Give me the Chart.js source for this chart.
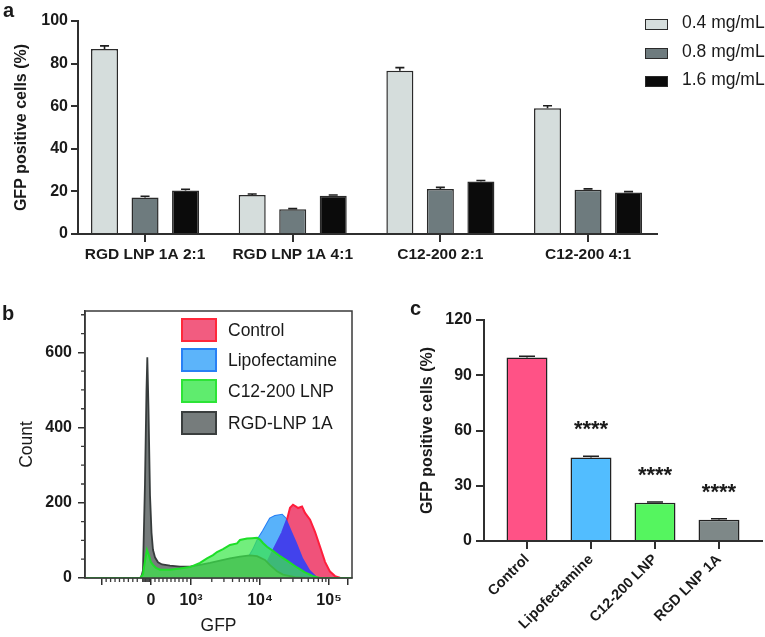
<!DOCTYPE html>
<html><head><meta charset="utf-8">
<script src="https://cdn.jsdelivr.net/npm/chart.js@4.4.1/dist/chart.umd.min.js"></script>
<style>
body{margin:0;background:#fff;width:765px;height:637px;overflow:hidden;position:relative;font-family:"Liberation Sans",Arial,Helvetica,sans-serif;color:#1a1a1a}
canvas{position:absolute}
.lbl{position:absolute;font-weight:bold;font-size:20px;line-height:1}
.leg{position:absolute;display:flex;align-items:center;white-space:nowrap}
.leg i{display:block;box-sizing:border-box;flex:none}
</style></head><body>
<canvas id="ca" width="765" height="282" style="left:0;top:0"></canvas>
<canvas id="cb" width="380" height="352" style="left:0;top:285px"></canvas>
<canvas id="cc" width="385" height="352" style="left:380px;top:285px"></canvas>
<div class="lbl" style="left:3px;top:0px">a</div>
<div class="lbl" style="left:2px;top:303px">b</div>
<div class="lbl" style="left:410px;top:298px">c</div>
<div id="legA"></div>
<div id="legB"></div>
<script>
// ---------- Panel a data ----------
const groupsA = ['RGD LNP 1A 2:1', 'RGD LNP 1A 4:1', 'C12-200 2:1', 'C12-200 4:1'];
const concA = ['0.4 mg/mL', '0.8 mg/mL', '1.6 mg/mL'];
const a04 = [86.9, 18.3, 76.7, 59.0];
const a08 = [17.1, 11.6, 21.1, 20.8];
const a16 = [20.4, 17.9, 24.6, 19.5];
const a04Err = [1.4, 0.5, 1.4, 1.2];
const a08Err = [0.6, 0.3, 0.8, 0.4];
const a16Err = [0.6, 0.4, 0.5, 0.4];
const aTicks = [0, 20, 40, 60, 80, 100];

// ---------- Panel b data (x in display decades of GFP) ----------
const histNames = ['Control', 'Lipofectamine', 'C12-200 LNP', 'RGD-LNP 1A'];
const ctrlX = [3.855, 3.971, 4.043, 4.101, 4.174, 4.246, 4.319, 4.391, 4.435, 4.478, 4.522, 4.551, 4.609, 4.652, 4.725, 4.797, 4.870, 4.942, 5.014, 5.087, 5.159, 5.232];
const ctrlY = [0, 8, 21, 40, 67, 93, 120, 155, 187, 195, 190, 186, 190, 173, 155, 123, 83, 43, 17, 5, 1, 0];
const lipoX = [2.261, 2.333, 2.362, 2.406, 2.551, 2.841, 3.130, 3.319, 3.464, 3.667, 3.812, 3.899, 3.971, 4.043, 4.145, 4.217, 4.319, 4.391, 4.464, 4.536, 4.623, 4.725, 4.826, 4.899];
const lipoY = [0, 3, 8, 4, 3, 3, 5, 12, 17, 29, 48, 75, 104, 125, 158, 165, 168, 155, 123, 93, 53, 21, 3, 0];
const c12X = [1.47, 2.261, 2.304, 2.333, 2.362, 2.391, 2.420, 2.449, 2.493, 2.551, 2.696, 2.841, 2.986, 3.130, 3.232, 3.319, 3.377, 3.464, 3.565, 3.667, 3.710, 3.812, 3.884, 3.957, 4.000, 4.043, 4.101, 4.188, 4.290, 4.391, 4.536, 4.652, 4.768, 4.870, 5.33];
const c12Y = [0, 0, 10, 45, 75, 60, 42, 35, 27, 22, 22, 25, 29, 40, 52, 61, 69, 77, 88, 92, 101, 105, 106, 107, 102, 93, 83, 72, 58, 46, 28, 15, 5, 0, 0];
const rgdX = [2.275, 2.304, 2.333, 2.355, 2.367, 2.384, 2.406, 2.428, 2.449, 2.478, 2.522, 2.580, 2.696, 2.841, 2.986, 3.130, 3.275, 3.420, 3.565, 3.710, 3.855, 3.957, 4.072, 4.145, 4.246, 4.333, 4.507, 4.652];
const rgdY = [0, 20, 250, 500, 587, 450, 220, 120, 75, 55, 42, 36, 33, 30, 30, 35, 40, 46, 52, 57, 60, 58, 48, 34, 18, 9, 2, 0];
const gfpMin = 1.464, gfpMax = 5.333;
const gfpTickPos = [2.42, 3, 4, 5];
const gfpTickLabels = ['0', '10³', '10⁴', '10⁵'];
const gfpMajor = [1.706, 2.42, 3, 4, 5, 5.275];
const countTicks = [0, 200, 400, 600];
const countMinor = [50, 100, 150, 250, 300, 350, 450, 500, 550, 650, 700];

// ---------- Panel c data ----------
const groupsC = ['Control', 'Lipofectamine', 'C12-200 LNP', 'RGD LNP 1A'];
const valsC = [99.7, 45.3, 20.8, 11.6];
const errC = [0.6, 0.7, 0.4, 0.5];
const sigC = ['', '****', '****', '****'];
const cTicks = [0, 30, 60, 90, 120];

// ---------- styles ----------
const FONT = '"Liberation Sans", Arial, Helvetica, sans-serif';
const AX = '#2f2f2f';
const colA = ['#d5dddc', '#6e7b7e', '#0b0b0b'];
const colC = ['#ff5286', '#52bdff', '#55f55f', '#7e8888'];
const histFill = ['rgb(240,82,122)', 'rgb(88,178,250)', 'rgba(60,232,75,0.72)', 'rgb(118,124,124)'];
const histLine = ['rgb(255,30,60)', 'rgb(35,125,245)', 'rgb(30,222,40)', 'rgb(55,60,60)'];
const legBFill = ['rgb(242,92,128)', 'rgb(92,180,250)', 'rgb(95,236,110)', 'rgb(118,124,124)'];
const legBLine = ['rgb(255,40,60)', 'rgb(40,128,245)', 'rgb(45,228,55)', 'rgb(58,62,62)'];

Chart.defaults.font.family = FONT;
Chart.defaults.color = '#1a1a1a';
Chart.defaults.animation = false;

const pairs = (xs, ys) => xs.map((x, i) => ({x: x, y: ys[i]}));

// error bars drawn through the y scale
const errPlugin = {
  id: 'errbars',
  afterDatasetsDraw(chart, args, opts) {
    const ctx = chart.ctx, ys = chart.scales.y;
    chart.data.datasets.forEach((ds, di) => {
      if (!ds.errors) return;
      const meta = chart.getDatasetMeta(di);
      meta.data.forEach((el, i) => {
        const v = ds.data[i].y;
        const top = ys.getPixelForValue(v + ds.errors[i]);
        ctx.save();
        ctx.strokeStyle = '#1e1e1e'; ctx.lineWidth = 1.6;
        ctx.beginPath();
        ctx.moveTo(el.x, el.y); ctx.lineTo(el.x, top);
        ctx.moveTo(el.x - opts.cap, top); ctx.lineTo(el.x + opts.cap, top);
        ctx.stroke(); ctx.restore();
      });
    });
  }
};

const starPlugin = {
  id: 'stars',
  afterDatasetsDraw(chart) {
    const ctx = chart.ctx, ys = chart.scales.y;
    const meta = chart.getDatasetMeta(0);
    ctx.save();
    ctx.font = 'bold 22px ' + FONT; ctx.textAlign = 'center'; ctx.textBaseline = 'alphabetic'; ctx.fillStyle = '#1a1a1a';
    meta.data.forEach((el, i) => {
      if (!sigC[i]) return;
      const top = ys.getPixelForValue(valsC[i] + errC[i]);
      ctx.fillText(sigC[i], el.x, top - 20);
    });
    ctx.restore();
  }
};

// per-dataset compositing for the overlaid histograms
const blendPlugin = {
  id: 'blend',
  beforeDatasetsDraw(chart) {
    const metas = chart.getSortedVisibleDatasetMetas();
    const first = metas[metas.length - 1];
    chart.ctx.globalCompositeOperation = chart.data.datasets[first.index].blend || 'source-over';
  },
  afterDatasetDraw(chart, args) {
    const metas = chart.getSortedVisibleDatasetMetas();
    const pos = metas.indexOf(args.meta);
    const next = metas[pos - 1];
    chart.ctx.globalCompositeOperation = next ? (chart.data.datasets[next.index].blend || 'source-over') : 'source-over';
  },
  afterDatasetsDraw(chart) { chart.ctx.globalCompositeOperation = 'source-over'; }
};

const gfpMinor = [];
for (let k = 1; k <= 8; k++) gfpMinor.push(1.706 + k * 0.0644);
[2.30, 2.32, 2.34, 2.36, 2.38, 2.40].forEach(v => gfpMinor.push(v));
for (let k = 1; k <= 9; k++) gfpMinor.push(2.42 + k * 0.058);
[3, 4].forEach(d => { for (let m = 2; m <= 9; m++) gfpMinor.push(d + Math.log10(m)); });

const framePlugin = {
  id: 'frame',
  afterDraw(chart) {
    const {ctx, chartArea: a} = chart;
    const x = chart.scales.x, y = chart.scales.y;
    ctx.save();
    ctx.strokeStyle = '#3a3a3a'; ctx.lineWidth = 1.5;
    ctx.strokeRect(a.left, a.top, a.right - a.left, a.bottom - a.top);
    ctx.lineWidth = 1.3; ctx.beginPath();
    gfpMinor.forEach(v => { const px = x.getPixelForValue(v); ctx.moveTo(px, a.bottom); ctx.lineTo(px, a.bottom + 4); });
    countMinor.forEach(v => { const py = y.getPixelForValue(v); ctx.moveTo(a.left, py); ctx.lineTo(a.left - 4, py); });
    ctx.stroke(); ctx.restore();
  }
};

// ---------- Panel a ----------
const aVals = [a04, a08, a16], aErrs = [a04Err, a08Err, a16Err];
new Chart(document.getElementById('ca'), {
  type: 'bar',
  data: {datasets: concA.map((c, k) => ({
    label: c, data: aVals[k].map((v, i) => ({x: i, y: v})), errors: aErrs[k],
    backgroundColor: colA[k], borderColor: '#2a2a2a', borderWidth: 1.5, borderSkipped: 'bottom',
    categoryPercentage: 0.823, barPercentage: 0.667
  }))},
  options: {
    responsive: false, devicePixelRatio: 1, animation: false,
    layout: {padding: {left: 0, top: 21, right: 108, bottom: 0}},
    plugins: {legend: {display: false}, tooltip: {enabled: false}, errbars: {cap: 4.5}},
    scales: {
      x: {type: 'linear', min: -0.454, max: 3.467, offset: false,
        afterBuildTicks: s => { s.ticks = groupsA.map((g, i) => ({value: i})); },
        afterFit: s => { s.height = 48; },
        ticks: {callback: v => groupsA[v], autoSkip: false, maxRotation: 0, padding: 3, font: {size: 15.5, weight: 'bold'}},
        grid: {offset: false, drawOnChartArea: false, tickLength: 8, color: AX, lineWidth: 2},
        border: {color: AX, width: 2}},
      y: {min: 0, max: 100,
        afterBuildTicks: s => { s.ticks = aTicks.map(v => ({value: v})); },
        afterFit: s => { s.width = 78; },
        ticks: {padding: 3, font: {size: 16, weight: 'bold'}},
        grid: {drawOnChartArea: false, tickLength: 7, color: AX, lineWidth: 2},
        border: {color: AX, width: 2},
        title: {display: true, text: 'GFP positive cells (%)', font: {size: 16, weight: 'bold'}, padding: {top: 12, bottom: 0}}}
    }
  },
  plugins: [errPlugin]
});

// ---------- Panel b ----------
const hx = [ctrlX, lipoX, c12X, rgdX], hy = [ctrlY, lipoY, c12Y, rgdY];
new Chart(document.getElementById('cb'), {
  type: 'line',
  data: {datasets: [
    {label: histNames[0], data: pairs(hx[0], hy[0]), order: 6, fill: 'origin', backgroundColor: histFill[0], borderColor: histLine[0], borderWidth: 2},
    {label: histNames[1] + ' (overlap with Control)', data: pairs(hx[1], hy[1]), order: 5, blend: 'source-atop', fill: 'origin', backgroundColor: 'rgb(66,66,236)', borderWidth: 0},
    {label: histNames[1], data: pairs(hx[1], hy[1]), order: 4, blend: 'destination-over', fill: 'origin', backgroundColor: histFill[1], borderColor: histLine[1], borderWidth: 2},
    {label: histNames[2], data: pairs(hx[2], hy[2]), order: 2, fill: 'origin', backgroundColor: histFill[2], borderColor: histLine[2], borderWidth: 2},
    {label: histNames[3], data: pairs(hx[3], hy[3]), order: 3, fill: 'origin', backgroundColor: histFill[3], borderColor: histLine[3], borderWidth: 1.8}
  ]},
  options: {
    responsive: false, devicePixelRatio: 1, animation: false,
    layout: {padding: {left: 0, top: 26, right: 28, bottom: 0}},
    elements: {point: {radius: 0}, line: {tension: 0}},
    plugins: {legend: {display: false}, tooltip: {enabled: false}},
    scales: {
      x: {type: 'linear', min: gfpMin, max: gfpMax,
        afterBuildTicks: s => { s.ticks = gfpMajor.map(v => ({value: v})); },
        afterFit: s => { s.height = 59; },
        ticks: {callback: v => { const k = gfpTickPos.indexOf(v); return k >= 0 ? gfpTickLabels[k] : ''; }, autoSkip: false, maxRotation: 0, padding: 6, font: {size: 16, weight: 'bold'}},
        grid: {drawOnChartArea: false, tickLength: 7, color: AX, lineWidth: 1.5},
        border: {color: AX, width: 1.5},
        title: {display: true, text: 'GFP', font: {size: 17.5}, padding: {top: 0, bottom: 0}}},
      y: {min: 0, max: 710,
        afterBuildTicks: s => { s.ticks = countTicks.map(v => ({value: v})); },
        afterFit: s => { s.width = 85; },
        ticks: {padding: 6, font: {size: 16, weight: 'bold'}},
        grid: {drawOnChartArea: false, tickLength: 7, color: AX, lineWidth: 1.5},
        border: {color: AX, width: 1.5},
        title: {display: true, text: 'Count', font: {size: 17.5}, padding: {top: 17, bottom: 0}}}
    }
  },
  plugins: [blendPlugin, framePlugin]
});

// ---------- Panel c ----------
new Chart(document.getElementById('cc'), {
  type: 'bar',
  data: {datasets: [{
    label: 'GFP positive cells (%)', data: valsC.map((v, i) => ({x: i, y: v})), errors: errC,
    backgroundColor: colC, borderColor: '#222', borderWidth: 1.5, borderSkipped: 'bottom',
    categoryPercentage: 1, barPercentage: 0.64
  }]},
  options: {
    responsive: false, devicePixelRatio: 1, animation: false,
    layout: {padding: {left: 0, top: 35, right: 3, bottom: 0}},
    plugins: {legend: {display: false}, tooltip: {enabled: false}, errbars: {cap: 8}},
    scales: {
      x: {type: 'linear', min: -0.672, max: 3.672, offset: false,
        afterBuildTicks: s => { s.ticks = groupsC.map((g, i) => ({value: i})); },
        afterFit: s => { s.height = 96; },
        ticks: {callback: v => groupsC[v], autoSkip: false, minRotation: 45, maxRotation: 45, padding: 2, font: {size: 14.5, weight: 'bold'}},
        grid: {offset: false, drawOnChartArea: false, tickLength: 8, color: AX, lineWidth: 2},
        border: {color: AX, width: 2}},
      y: {min: 0, max: 120,
        afterBuildTicks: s => { s.ticks = cTicks.map(v => ({value: v})); },
        afterFit: s => { s.width = 104; },
        ticks: {padding: 4, font: {size: 16, weight: 'bold'}},
        grid: {drawOnChartArea: false, tickLength: 8, color: AX, lineWidth: 2},
        border: {color: AX, width: 2},
        title: {display: true, text: 'GFP positive cells (%)', font: {size: 16, weight: 'bold'}, padding: {top: 38, bottom: 0}}}
    }
  },
  plugins: [errPlugin, starPlugin]
});

// ---------- HTML legends ----------
const legA = document.getElementById('legA');
const legATops = [19, 48, 76];
concA.forEach((c, k) => {
  const d = document.createElement('div');
  d.className = 'leg';
  d.style.cssText = 'left:645px;top:' + legATops[k] + 'px;height:11px';
  d.innerHTML = '<i style="width:23px;height:11px;background:' + colA[k] + ';border:1.5px solid #2a2a2a"></i>' +
    '<span style="margin-left:14px;font-size:17.5px;position:relative;top:-2px">' + c + '</span>';
  legA.appendChild(d);
});
const legB = document.getElementById('legB');
const legBTops = [318, 348, 379, 411];
histNames.forEach((n, k) => {
  const d = document.createElement('div');
  d.className = 'leg';
  d.style.cssText = 'left:181px;top:' + legBTops[k] + 'px;height:24px';
  d.innerHTML = '<i style="width:36px;height:24px;background:' + legBFill[k] + ';border:2.5px solid ' + legBLine[k] + '"></i>' +
    '<span style="margin-left:11px;font-size:17.5px">' + n + '</span>';
  legB.appendChild(d);
});
</script>
</body></html>
